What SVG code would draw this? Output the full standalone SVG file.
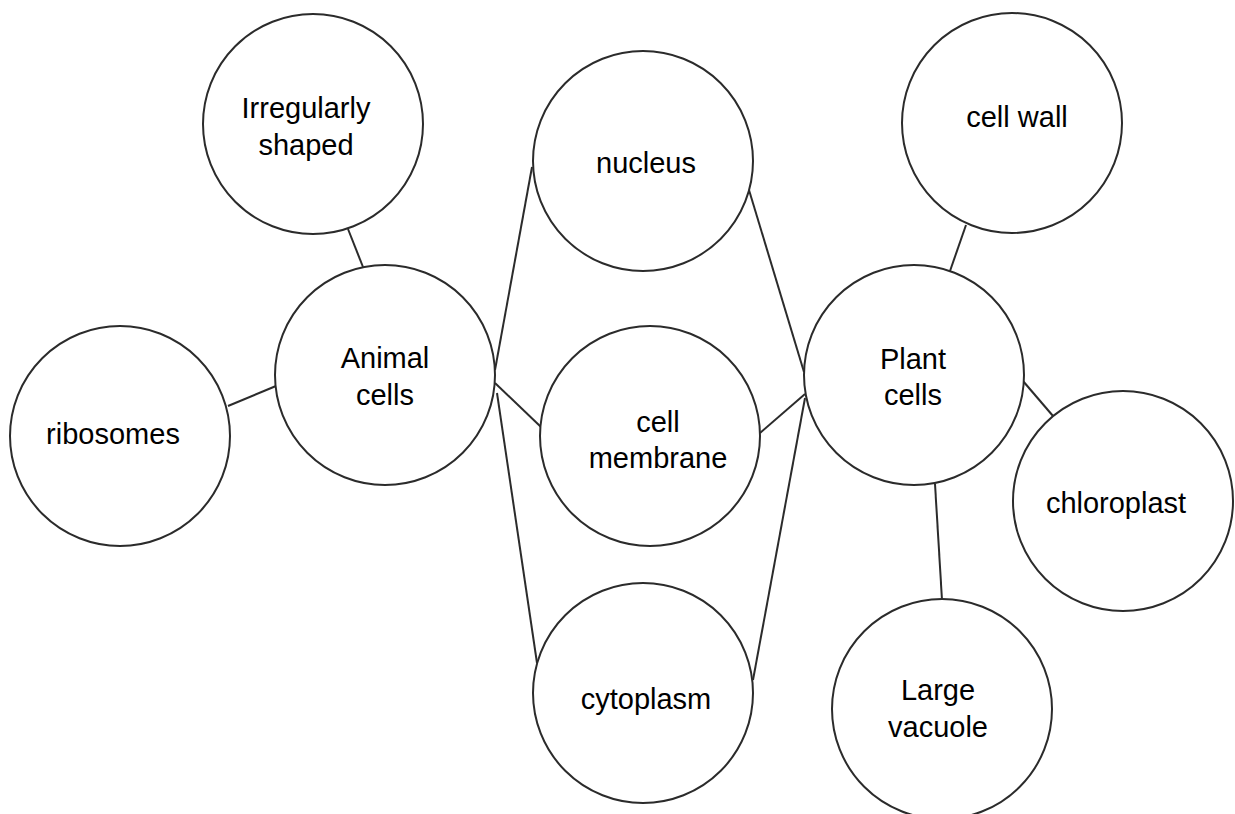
<svg xmlns="http://www.w3.org/2000/svg" width="1235" height="814" viewBox="0 0 1235 814">
<style>
.n{fill:#fff;stroke:#2b2b2b;stroke-width:2}
.c line{stroke:#2b2b2b;stroke-width:2}
text{font-family:"Liberation Sans",Arial,sans-serif;font-size:29px;fill:#000;text-anchor:middle}
</style>
<rect width="1235" height="814" fill="#fff"/>
<g class="c" id="connectors">
<line x1="348" y1="229" x2="363" y2="267"/>
<line x1="228" y1="406" x2="276" y2="386"/>
<line x1="495" y1="370" x2="532" y2="167"/>
<line x1="495" y1="383" x2="541" y2="427"/>
<line x1="497" y1="393" x2="537" y2="663"/>
<line x1="749" y1="190" x2="804" y2="372"/>
<line x1="760" y1="433" x2="805" y2="394"/>
<line x1="753" y1="680" x2="805" y2="398"/>
<line x1="950" y1="271" x2="966" y2="225"/>
<line x1="1023" y1="381" x2="1053" y2="416"/>
<line x1="935" y1="484" x2="942" y2="600"/>
</g>
<g id="irregular"><circle class="n" cx="313" cy="124" r="110"/><text x="306" y="118">Irregularly</text><text x="306" y="155">shaped</text></g>
<g id="nucleus"><circle class="n" cx="643" cy="161" r="110"/><text x="646" y="173">nucleus</text></g>
<g id="cellwall"><circle class="n" cx="1012" cy="123" r="110"/><text x="1017" y="127">cell wall</text></g>
<g id="animal"><circle class="n" cx="385" cy="375" r="110"/><text x="385" y="368">Animal</text><text x="385" y="405">cells</text></g>
<g id="ribosomes"><circle class="n" cx="120" cy="436" r="110"/><text x="113" y="444">ribosomes</text></g>
<g id="membrane"><circle class="n" cx="650" cy="436" r="110"/><text x="658" y="432">cell</text><text x="658" y="468">membrane</text></g>
<g id="plant"><circle class="n" cx="914" cy="375" r="110"/><text x="913" y="369">Plant</text><text x="913" y="405">cells</text></g>
<g id="chloroplast"><circle class="n" cx="1123" cy="501" r="110"/><text x="1116" y="513">chloroplast</text></g>
<g id="cytoplasm"><circle class="n" cx="643" cy="693" r="110"/><text x="646" y="709">cytoplasm</text></g>
<g id="vacuole"><circle class="n" cx="942" cy="709" r="110"/><text x="938" y="700">Large</text><text x="938" y="737">vacuole</text></g>
</svg>
